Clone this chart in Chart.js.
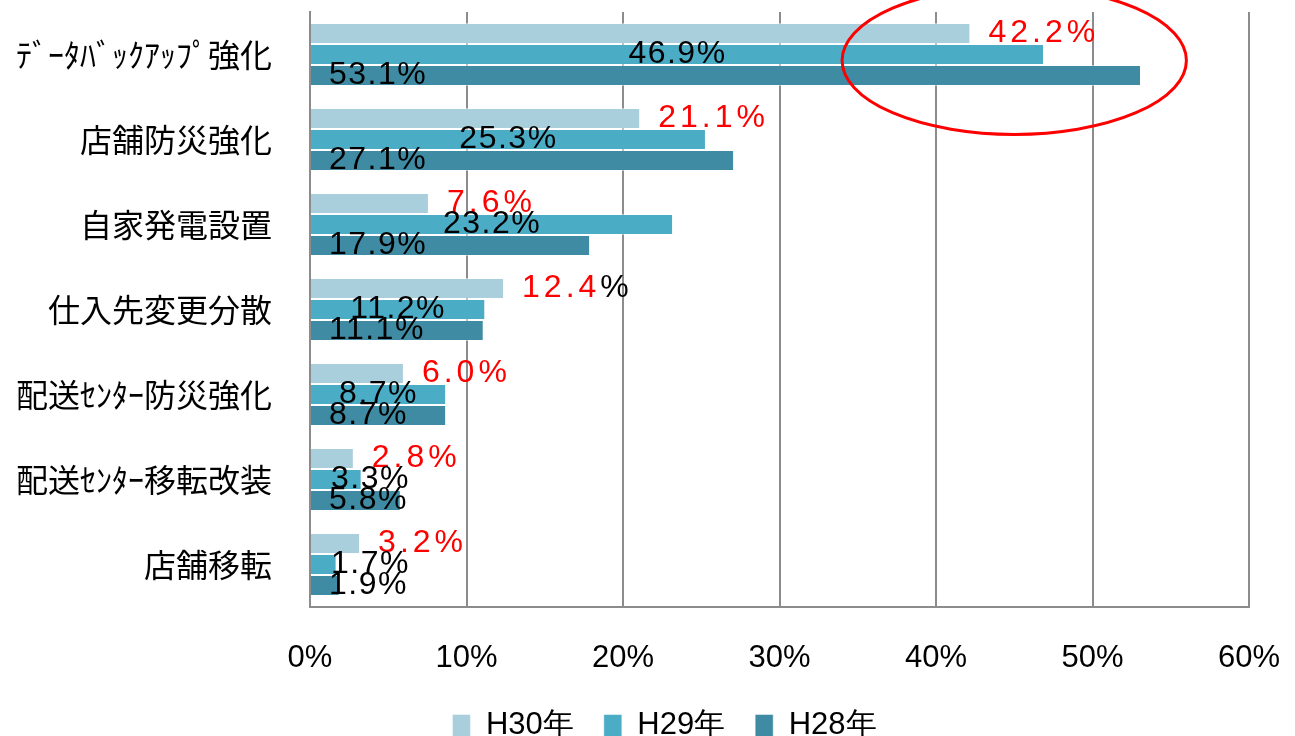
<!DOCTYPE html>
<html lang="ja">
<head>
<meta charset="utf-8">
<title>災害対策の取り組み</title>
<script src="https://cdn.jsdelivr.net/npm/chart.js@4.4.1/dist/chart.umd.min.js"></script>
<style>
    html, body { margin: 0; padding: 0; background: #fff; overflow: hidden; }
    #wrap { position: relative; width: 1295px; height: 747px; }
</style>
</head>
<body>
<div id="wrap"><canvas id="grafico"></canvas></div>
<script>
// Datos
const categorias = ["ﾃﾞｰﾀﾊﾞｯｸｱｯﾌﾟ強化", "店舗防災強化", "自家発電設置", "仕入先変更分散", "配送ｾﾝﾀｰ防災強化", "配送ｾﾝﾀｰ移転改装", "店舗移転"];
const seriesNombres = ["H30年", "H29年", "H28年"];
const valoresH30 = [42.2, 21.1, 7.6, 12.4, 6.0, 2.8, 3.2];
const valoresH29 = [46.9, 25.3, 23.2, 11.2, 8.7, 3.3, 1.7];
const valoresH28 = [53.1, 27.1, 17.9, 11.1, 8.7, 5.8, 1.9];
const ticksX = [0, 10, 20, 30, 40, 50, 60];

const colores = ["#A9CFDC", "#4BACC6", "#3E8BA3"];
const fuenteNum = "'Liberation Sans', Arial, sans-serif";
const fuenteJp = "'Noto Sans CJK JP', 'Noto Sans', sans-serif";

// Etiquetas de datos
const etiquetas = {
    id: "etiquetas",
    afterDatasetsDraw(chart) {
        const ctx = chart.ctx;
        ctx.save();
        ctx.font = "32px " + fuenteNum;
        ctx.textBaseline = "middle";
        ctx.textAlign = "left";
        chart.data.datasets.forEach((ds, i) => {
            const meta = chart.getDatasetMeta(i);
            meta.data.forEach((bar, j) => {
                const num = ds.data[j].toFixed(1);
                if (i === 0) {
                    // H30: rojo, después de la barra
                    ctx.letterSpacing = "4px";
                    ctx.fillStyle = "#FF0000";
                    const x = bar.x + 18;
                    ctx.fillText(num, x, bar.y);
                    const w = ctx.measureText(num).width;
                    ctx.fillStyle = categorias[j] === "仕入先変更分散" ? "#000000" : "#FF0000";
                    ctx.fillText("%", x + w, bar.y);
                } else if (i === 1) {
                    // H29: centrado en la barra
                    ctx.letterSpacing = "1.5px";
                    ctx.fillStyle = "#000000";
                    const txt = num + "%";
                    const w = ctx.measureText(txt).width;
                    const x = Math.max((bar.base + bar.x) / 2 - w / 2, bar.base + 20);
                    ctx.fillText(txt, x, bar.y);
                } else {
                    // H28: al inicio de la barra
                    ctx.letterSpacing = "1.5px";
                    ctx.fillStyle = "#000000";
                    ctx.fillText(num + "%", bar.base + 18, bar.y);
                }
            });
        });
        ctx.restore();
    }
};

// Óvalo rojo
const ovalo = {
    id: "ovalo",
    afterDraw(chart) {
        const x = chart.scales.x;
        const y = chart.scales.y;
        const cx = x.getPixelForValue(45);
        const cy = y.getPixelForValue(0.07);
        const rx = x.getPixelForValue(56) - cx;
        const ry = y.getPixelForValue(0.87) - y.getPixelForValue(0);
        const ctx = chart.ctx;
        ctx.save();
        ctx.beginPath();
        ctx.ellipse(cx, cy, rx, ry, 0, 0, Math.PI * 2);
        ctx.strokeStyle = "#FF0000";
        ctx.lineWidth = 3;
        ctx.stroke();
        ctx.restore();
    }
};

// Leyenda un poco a la derecha y abajo
const moverLeyenda = {
    id: "moverLeyenda",
    afterLayout(chart) {
        if (chart.legend) {
            chart.legend.left += 80;
            chart.legend.top += 4;
        }
    }
};

const ctxGrafico = document.getElementById("grafico").getContext("2d");
new Chart(ctxGrafico, {
    type: "bar",
    data: {
        labels: categorias,
        datasets: [valoresH30, valoresH29, valoresH28].map((vals, i) => ({
            label: seriesNombres[i],
            data: vals,
            backgroundColor: colores[i],
            borderColor: "rgba(255,255,255,0.45)",
            borderWidth: 1,
            categoryPercentage: 0.74,
            barPercentage: 1.0
        }))
    },
    plugins: [etiquetas, ovalo, moverLeyenda],
    options: {
        indexAxis: "y",
        responsive: true,
        maintainAspectRatio: false,
        animation: false,
        layout: { padding: { top: 12, right: 46, left: 0, bottom: 0 } },
        scales: {
            x: {
                min: 0,
                max: 60,
                afterBuildTicks: (scale) => { scale.ticks = ticksX.map(v => ({ value: v })); },
                afterFit: (scale) => {
                    scale.height = 69;
                    scale.paddingLeft = 0;
                    scale.paddingRight = 0;
                },
                ticks: {
                    padding: 33,
                    color: "#000000",
                    font: { family: fuenteNum, size: 31 },
                    callback: (v) => v + "%"
                },
                grid: { color: "#8C8C8C", lineWidth: 2, drawTicks: false },
                border: { color: "#8C8C8C", width: 2 }
            },
            y: {
                afterFit: (scale) => {
                    scale.width = 310;
                    scale.paddingTop = 0;
                    scale.paddingBottom = 0;
                },
                ticks: {
                    padding: 38,
                    color: "#000000",
                    font: { family: fuenteJp, size: 32 }
                },
                grid: { drawOnChartArea: false, drawTicks: false },
                border: { color: "#8C8C8C", width: 2 }
            }
        },
        plugins: {
            legend: {
                position: "bottom",
                labels: {
                    boxWidth: 18,
                    boxHeight: 22,
                    padding: 30,
                    color: "#000000",
                    font: { family: fuenteNum, size: 31 }
                }
            },
            tooltip: { enabled: false }
        }
    }
});
</script>
</body>
</html>
